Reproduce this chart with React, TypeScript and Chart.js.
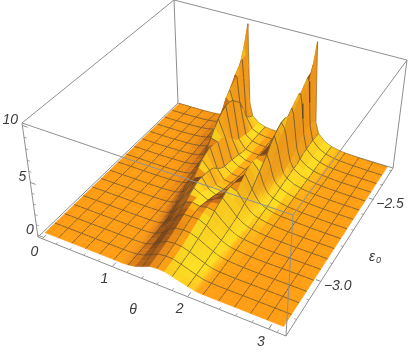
import React, { useEffect, useRef } from "react";
import { Chart, registerables } from "chart.js";
Chart.register(...registerables);

const thetaLeft = [0,.098,.196,.295,.393,.491,.589,.687,.785,.884,.982,1.031,1.056,1.08,1.105,1.13,1.178,1.276,1.374,1.473,1.571];
const epsValues = [-3.26,-3.23,-3.2,-3.17,-3.14,-3.11,-3.08,-3.05,-3.02,-2.99,-2.96,-2.93,-2.9,-2.87,-2.84,-2.81,-2.78,-2.75,-2.72,-2.69,-2.66,-2.63,-2.6,-2.57,-2.54,-2.51,-2.48,-2.45,-2.42,-2.39,-2.36,-2.33,-2.3];
// surface heights, one row per epsilon value, theta from 0 to pi/2
const zLeft = [
[.09,.1,.1,.1,.1,.1,.1,.1,.1,.1,.1,.1,.1,.1,.1,.11,.13,.26,.52,.82,.9],
[.09,.1,.1,.1,.1,.1,.1,.1,.1,.1,.1,.1,.1,.1,.11,.12,.15,.3,.6,.9,.98],
[.09,.1,.1,.1,.1,.1,.1,.1,.1,.1,.1,.1,.11,.11,.12,.13,.17,.34,.68,.98,1.06],
[.09,.1,.1,.1,.1,.1,.1,.1,.1,.1,.1,.11,.11,.12,.13,.14,.18,.38,.78,1.08,1.16],
[.09,.1,.1,.1,.1,.1,.1,.1,.1,.1,.1,.11,.11,.12,.13,.14,.19,.42,.88,1.2,1.28],
[.09,.1,.1,.1,.1,.1,.1,.1,.1,.1,.1,.1,.11,.12,.13,.15,.21,.5,1,1.35,1.42],
[.09,.1,.1,.1,.1,.1,.1,.1,.1,.1,.1,.11,.11,.12,.14,.17,.24,.58,1.15,1.52,1.6],
[.09,.1,.1,.1,.1,.1,.1,.1,.1,.1,.11,.11,.12,.13,.15,.18,.28,.68,1.3,1.7,1.75],
[.09,.1,.1,.1,.1,.1,.1,.1,.1,.1,.11,.12,.13,.15,.17,.21,.33,.8,1.5,1.9,1.92],
[.09,.1,.1,.1,.1,.1,.1,.1,.1,.1,.12,.13,.15,.17,.2,.25,.4,.95,1.7,2.05,2],
[.09,.1,.1,.1,.1,.1,.1,.1,.1,.1,.13,.15,.17,.2,.24,.3,.48,1.1,1.95,2.15,2],
[.09,.1,.1,.1,.1,.1,.1,.1,.1,.11,.15,.17,.2,.24,.29,.36,.6,1.35,2.2,2.15,1.85],
[.09,.1,.1,.1,.1,.1,.1,.1,.1,.12,.17,.2,.24,.3,.36,.45,.75,1.6,2.4,2.05,1.7],
[.09,.1,.1,.1,.1,.1,.1,.1,.11,.14,.19,.24,.29,.36,.44,.56,.95,1.9,2.6,1.85,1.55],
[.09,.1,.1,.1,.1,.1,.1,.11,.12,.15,.22,.28,.34,.42,.53,.68,1.15,2.25,2.6,1.65,1.35],
[.09,.1,.1,.1,.1,.1,.1,.11,.13,.17,.25,.32,.4,.5,.63,.82,1.4,2.8,2.5,1.35,1.15],
[.09,.1,.1,.1,.1,.1,.11,.12,.14,.18,.28,.37,.46,.58,.75,.98,1.7,3.15,2.4,1.15,1],
[.09,.1,.1,.1,.1,.1,.11,.12,.14,.2,.31,.42,.52,.66,.88,1.2,2.2,3.4,2.2,1,.88],
[.09,.1,.1,.1,.1,.1,.12,.13,.15,.22,.36,.5,.62,.78,1.05,1.45,2.45,3.55,1.75,.85,.78],
[.09,.1,.1,.1,.1,.11,.12,.14,.17,.25,.42,.6,.78,1.05,1.45,2.05,3,3.4,1.35,.72,.65],
[.09,.1,.1,.1,.1,.11,.13,.15,.18,.28,.48,.72,.92,1.25,1.7,2.45,3.5,3.3,1.1,.62,.55],
[.09,.1,.1,.1,.1,.11,.13,.16,.2,.32,.55,.85,1.15,1.6,2.25,3,4.1,3.3,1.05,.55,.48],
[.09,.1,.1,.1,.11,.12,.14,.17,.23,.36,.65,1,1.45,2.05,2.8,3.5,4.55,3,.95,.5,.42],
[.09,.1,.1,.1,.11,.12,.15,.18,.26,.42,.78,1.25,1.8,2.6,3.4,4.2,4.9,2.5,.8,.4,.32],
[.09,.1,.1,.1,.11,.13,.16,.2,.3,.48,.85,1.5,2.1,3,3.9,4.6,5.1,2,.68,.32,.26],
[.09,.1,.1,.11,.12,.14,.17,.23,.34,.56,1,1.75,2.55,3.6,4.6,5.4,5.1,1.5,.5,.27,.24],
[.09,.1,.1,.11,.12,.15,.19,.25,.38,.65,1.15,2,3,4.2,5.3,5.8,4.9,1.2,.42,.27,.25],
[.09,.1,.11,.12,.13,.16,.2,.27,.42,.72,1.3,2.4,3.7,5,5.9,6.1,4.4,1.1,.45,.3,.28],
[.09,.1,.11,.12,.13,.16,.2,.28,.44,.75,1.35,2.7,4.2,5.6,6.5,6.4,4,.9,.46,.32,.28],
[.09,.1,.11,.12,.14,.17,.22,.3,.46,.8,1.4,2.9,4.7,6.3,6.9,6.2,3,.8,.46,.33,.3],
[.08,.09,.1,.12,.14,.17,.22,.31,.46,.8,1.45,2.8,5,7,7.3,5.6,1.8,.72,.44,.33,.3],
[.08,.09,.1,.12,.14,.17,.21,.3,.44,.76,1.4,2.8,6,8.2,7.4,4.4,1.4,.66,.42,.31,.29],
[.08,.09,.1,.11,.13,.16,.2,.28,.42,.72,1.35,2.4,6,10,6,2.4,1.15,.6,.38,.3,.28],
];
// the same rows for theta from pi down to pi/2, where the right flank is wider; the rows above them look the same on both sides
const zRightFront = [
[.09,.1,.1,.1,.1,.1,.1,.1,.1,.1,.1,.12,.13,.15,.18,.22,.3,.48,.68,.85,.9],
[.09,.1,.1,.1,.1,.1,.1,.1,.1,.1,.11,.13,.14,.16,.2,.25,.33,.54,.75,.94,.98],
[.09,.1,.1,.1,.1,.1,.1,.1,.1,.1,.12,.14,.16,.18,.22,.27,.37,.6,.83,1.03,1.06],
[.09,.1,.1,.1,.1,.1,.1,.1,.1,.11,.13,.16,.18,.21,.25,.3,.41,.66,.92,1.13,1.16],
[.09,.1,.1,.1,.1,.1,.1,.1,.1,.12,.15,.18,.2,.23,.27,.33,.45,.72,1,1.22,1.28],
[.09,.1,.1,.1,.1,.1,.1,.1,.11,.13,.18,.21,.24,.27,.32,.38,.52,.82,1.15,1.38,1.42],
[.09,.1,.1,.1,.1,.1,.1,.1,.12,.15,.21,.25,.28,.32,.37,.44,.58,.92,1.3,1.55,1.6],
[.09,.1,.1,.1,.1,.1,.1,.11,.13,.16,.23,.27,.31,.35,.4,.48,.63,1,1.45,1.75,1.75],
[.09,.1,.1,.1,.1,.1,.1,.11,.14,.18,.26,.3,.33,.38,.44,.52,.68,1.1,1.6,1.92,1.92],
[.09,.1,.1,.1,.1,.1,.11,.12,.15,.21,.29,.34,.38,.43,.5,.59,.76,1.25,1.8,2.05,2],
[.09,.1,.1,.1,.1,.1,.11,.12,.16,.23,.32,.38,.42,.48,.56,.66,.85,1.4,2.05,2.15,2],
[.09,.1,.1,.1,.1,.11,.12,.14,.18,.25,.35,.42,.47,.54,.63,.74,.95,1.55,2.25,2.15,1.85],
[.09,.1,.1,.1,.11,.12,.14,.16,.19,.26,.38,.46,.52,.6,.7,.82,1.05,1.75,2.4,2.05,1.7],
[.09,.1,.1,.11,.12,.13,.15,.18,.22,.3,.44,.52,.6,.68,.8,.95,1.25,2,2.6,1.85,1.55],
[.09,.1,.1,.11,.12,.14,.16,.2,.25,.33,.49,.58,.67,.77,.9,1.08,1.45,2.35,2.6,1.65,1.35],
[.09,.1,.1,.11,.13,.15,.18,.22,.25,.34,.52,.62,.72,.84,1,1.22,1.65,2.85,2.5,1.35,1.15],
[.09,.1,.1,.11,.13,.15,.18,.23,.26,.36,.55,.7,.8,.95,1.15,1.4,1.95,3.15,2.4,1.15,1],
[.09,.1,.1,.11,.13,.15,.18,.23,.28,.38,.6,.76,.88,1.05,1.28,1.6,2.4,3.4,2.2,1,.88],
[.09,.1,.1,.11,.13,.15,.18,.23,.29,.42,.66,.84,.98,1.2,1.5,1.9,2.8,3.55,1.75,.85,.78],
[.09,.1,.1,.11,.13,.15,.18,.24,.31,.46,.72,.94,1.12,1.4,1.8,2.4,3.2,3.4,1.35,.72,.65],
[.09,.1,.1,.11,.13,.15,.19,.25,.32,.5,.78,1.05,1.25,1.6,2.1,2.75,3.6,3.3,1.1,.62,.55],
[.09,.1,.1,.11,.13,.15,.19,.25,.34,.52,.85,1.15,1.45,1.9,2.55,3.2,4.2,3.3,1.05,.55,.48],
[.09,.1,.1,.11,.13,.15,.19,.25,.35,.54,.9,1.25,1.7,2.3,3,3.7,4.6,3,.95,.5,.42],
[.09,.1,.1,.11,.13,.15,.19,.25,.36,.56,.95,1.45,2,2.75,3.5,4.25,4.9,2.5,.8,.4,.32],
[.09,.1,.1,.11,.13,.15,.19,.25,.37,.58,1,1.6,2.25,3.05,3.95,4.6,5.1,2,.68,.32,.26],
];
const thetaTicks = [0, 1, 2, 3];
const thetaMinorTicks = [.2,.4,.6,.8,1.2,1.4,1.6,1.8,2.2,2.4,2.6,2.8,3.0,3.1];
const epsTicks = [-3.0, -2.5];
const epsMinorTicks = [-3.2,-3.1,-2.9,-2.8,-2.7,-2.6,-2.4,-2.3];
const zTicks = [0, 5, 10];
const zMinorTicks = [1,2,3,4,6,7,8,9];

// camera calibration: where the eight corners of the plot box land on the canvas
const boxCorners: number[][] = [
  [0,0,0,38,237],[1,0,0,286,336],[1,1,0,393,168],[0,1,0,178,103],
  [0,0,1,22,123],[1,0,1,293,215],[1,1,1,407,60],[0,1,1,174,0],
];
function fitCamera(): number[] {
  const n = 11;
  const M = Array.from({ length: n }, () => new Array(n + 1).fill(0));
  const add = (r: number[], t: number) => {
    for (let i = 0; i < n; i++) { for (let k = 0; k < n; k++) M[i][k] += r[i] * r[k]; M[i][n] += r[i] * t; }
  };
  for (const [a, b, c, x, y] of boxCorners) {
    add([a, b, c, 1, 0, 0, 0, 0, -x * a, -x * b, -x * c], x);
    add([0, 0, 0, 0, a, b, c, 1, -y * a, -y * b, -y * c], y);
  }
  for (let i = 0; i < n; i++) {
    let p = i;
    for (let r = i + 1; r < n; r++) if (Math.abs(M[r][i]) > Math.abs(M[p][i])) p = r;
    [M[i], M[p]] = [M[p], M[i]];
    for (let r = 0; r < n; r++) {
      if (r === i) continue;
      const f = M[r][i] / M[i][i];
      for (let k = i; k <= n; k++) M[r][k] -= f * M[i][k];
    }
  }
  return M.map((row, i) => row[n] / row[i]);
}
const P = fitCamera();
const project = (a: number, b: number, c: number) => {
  const w = P[8] * a + P[9] * b + P[10] * c + 1;
  return { x: (P[0] * a + P[1] * b + P[2] * c + P[3]) / w, y: (P[4] * a + P[5] * b + P[6] * c + P[7]) / w };
};
const PAD = 0.02;
const epsMin = epsValues[0], epsMax = epsValues[epsValues.length - 1];
const boxA = (t: number) => (t / Math.PI + PAD) / (1 + 2 * PAD);
const boxB = (e: number) => ((e - epsMin) / (epsMax - epsMin) + PAD) / (1 + 2 * PAD);
const boxC = (z: number) => (z / 10 + PAD) / (1 + 2 * PAD);
const pt = (t: number, e: number, z: number) => project(boxA(t), boxB(e), boxC(z));

const thetas = [...thetaLeft, ...thetaLeft.slice(0, -1).reverse().map((t) => Math.PI - t)];
const zRows = zLeft.map((r, j) => [...r, ...(zRightFront[j] || r).slice(0, -1).reverse()]);

const stops: number[][] = [
  [-1, 205, 120, 25], [-.9, 212, 124, 25], [-.55, 125, 68, 22], [-.25, 215, 120, 25], [0, 255, 158, 20],
  [.07, 255, 165, 20], [.3, 255, 225, 35], [.7, 255, 205, 30], [1, 240, 150, 25],
];
function shade(nx: number, ny: number) {
  let k = 0;
  while (k < stops.length - 2 && nx > stops[k + 1][0]) k++;
  const s = stops[k], e = stops[k + 1];
  const t = Math.max(0, Math.min(1, (nx - s[0]) / (e[0] - s[0])));
  const f = 1 + 0.15 * Math.min(0, ny);
  const c = [1, 2, 3].map((i) => Math.round((s[i] + (e[i] - s[i]) * t) * f));
  return `rgb(${c[0]},${c[1]},${c[2]})`;
}

const MESH = "rgba(72,64,48,0.8)";
const BOX = "#8f8f8f";
const line = (data: any[], color: string, width: number) => ({
  data, borderColor: color, borderWidth: width, showLine: true, pointRadius: 0, fill: false, tension: 0,
});
const corner = (i: number) => ({ x: boxCorners[i][3], y: boxCorners[i][4] });

function buildPaintList() {
  const list: any[] = [];
  for (const [p, q] of [[3,7],[7,4],[7,6],[3,0],[3,2],[0,4],[2,6]]) list.push(line([corner(p), corner(q)], BOX, 1));
  for (const [p, q] of [[0,1],[1,2]]) list.push(line([corner(p), corner(q)], BOX, 1));
  const addTick = (from: any, to: any, w: number) => list.push(line([from, to], BOX, w));
  const aStep = Math.PI * 0.012, bStep = 0.014;
  for (const t of thetaTicks) addTick(pt(t, epsMin - 0.02 * (epsMax - epsMin), -.2), pt(t, epsMin - 0.02 * (epsMax - epsMin) + 1.6 * bStep, -.2), 1);
  for (const t of thetaMinorTicks) addTick(pt(t, epsMin - 0.02 * (epsMax - epsMin), -.2), pt(t, epsMin - 0.02 * (epsMax - epsMin) + bStep * .8, -.2), .8);
  for (const e of epsTicks) addTick(pt(Math.PI * 1.02, e, -.2), pt(Math.PI * 1.02 - 1.6 * aStep, e, -.2), 1);
  for (const e of epsMinorTicks) addTick(pt(Math.PI * 1.02, e, -.2), pt(Math.PI * 1.02 - .8 * aStep, e, -.2), .8);
  const e0 = epsMin - 0.02 * (epsMax - epsMin);
  for (const z of zTicks) addTick(pt(-.02 * Math.PI, e0, z), pt(-.02 * Math.PI + 2 * aStep, e0, z), 1);
  for (const z of zMinorTicks) addTick(pt(-.02 * Math.PI, e0, z), pt(-.02 * Math.PI + aStep, e0, z), .8);

  const isMeshTheta = (t: number) => {
    const k = (t / Math.PI) * 16;
    return Math.abs(k - Math.round(k)) < 0.035 && Math.round(k) > 0 && Math.round(k) < 16;
  };
  const nj = epsValues.length, ni = thetas.length;
  const P3 = (i: number, j: number) => pt(thetas[i], epsValues[j], zRows[j][i]);
  const H = 0.04; // height of one z unit when the box floor has unit sides
  for (let j = nj - 2; j >= 0; j--) {
    for (let i = 0; i < ni - 1; i++) {
      const p00 = P3(i, j), p10 = P3(i + 1, j), p11 = P3(i + 1, j + 1), p01 = P3(i, j + 1);
      const da = boxA(thetas[i + 1]) - boxA(thetas[i]), db = boxB(epsValues[j + 1]) - boxB(epsValues[j]);
      const dzda = (H * (zRows[j][i + 1] + zRows[j + 1][i + 1] - zRows[j][i] - zRows[j + 1][i])) / 2 / da;
      const dzdb = (H * (zRows[j + 1][i] + zRows[j + 1][i + 1] - zRows[j][i] - zRows[j][i + 1])) / 2 / db;
      const len = Math.hypot(dzda, dzdb, 1);
      const col = shade(-dzda / len, -dzdb / len);
      list.push({
        data: [p00, p10, p11, p01, p00], borderColor: col, backgroundColor: col, borderWidth: 0.6,
        showLine: true, pointRadius: 0, fill: "shape", tension: 0,
      });
      if (isMeshTheta(thetas[i])) list.push(line([p00, p01], MESH, 0.8));
      if ((j + 1) % 2 === 0 && j + 1 < nj - 1) list.push(line([p01, p11], MESH, 0.8));
      if (j + 1 === nj - 1) list.push(line([p01, p11], "rgba(60,50,35,0.55)", 0.6));
    }
  }
  for (const [p, q] of [[4,5],[5,1],[5,6]]) list.push(line([corner(p), corner(q)], BOX, 1));
  return list.reverse(); // Chart.js paints the last dataset first
}

const labelPlugin = {
  id: "boxLabels",
  afterDatasetsDraw(chart: any) {
    const { ctx, scales } = chart;
    const X = (v: number) => scales.x.getPixelForValue(v), Y = (v: number) => scales.y.getPixelForValue(v);
    ctx.save();
    ctx.fillStyle = "#3c3c3c";
    ctx.font = "italic 14px 'Liberation Sans'";
    ctx.textBaseline = "middle";
    ctx.textAlign = "center";
    const e0 = epsMin - 0.02 * (epsMax - epsMin);
    for (const t of thetaTicks) { const p = pt(t, e0, -.2); ctx.fillText(String(t), X(p.x) - 8, Y(p.y) + 13); }
    ctx.fillText("θ", X(133), Y(310));
    ctx.textAlign = "left";
    for (const e of epsTicks) { const p = pt(Math.PI * 1.02, e, -.2); ctx.fillText("\u2212" + e.toFixed(1).slice(1), X(p.x) + 3, Y(p.y) + 5); }
    ctx.fillText("ε", X(369), Y(257));
    ctx.font = "italic 9px 'Liberation Sans'";
    ctx.fillText("0", X(376), Y(260));
    ctx.font = "italic 14px 'Liberation Sans'";
    ctx.textAlign = "right";
    for (const z of zTicks) { const p = pt(-.02 * Math.PI, e0, z); ctx.fillText(String(z), X(p.x) - 4, Y(p.y) - 5); }
    ctx.restore();
  },
};

export default function App() {
  const ref = useRef<HTMLCanvasElement>(null);
  useEffect(() => {
    document.body.style.margin = "0";
    const chart = new Chart(ref.current as HTMLCanvasElement, {
      type: "scatter",
      data: { datasets: buildPaintList() },
      options: {
        animation: false, responsive: false, normalized: true,
        layout: { padding: 0 },
        plugins: { legend: { display: false }, tooltip: { enabled: false } },
        events: [],
        scales: {
          x: { type: "linear", min: 0, max: 409, display: false },
          y: { type: "linear", min: 0, max: 354, reverse: true, display: false },
        },
      } as any,
      plugins: [labelPlugin as any],
    });
    return () => chart.destroy();
  }, []);
  return <canvas ref={ref} width={409} height={354} style={{ display: "block" }} />;
}
